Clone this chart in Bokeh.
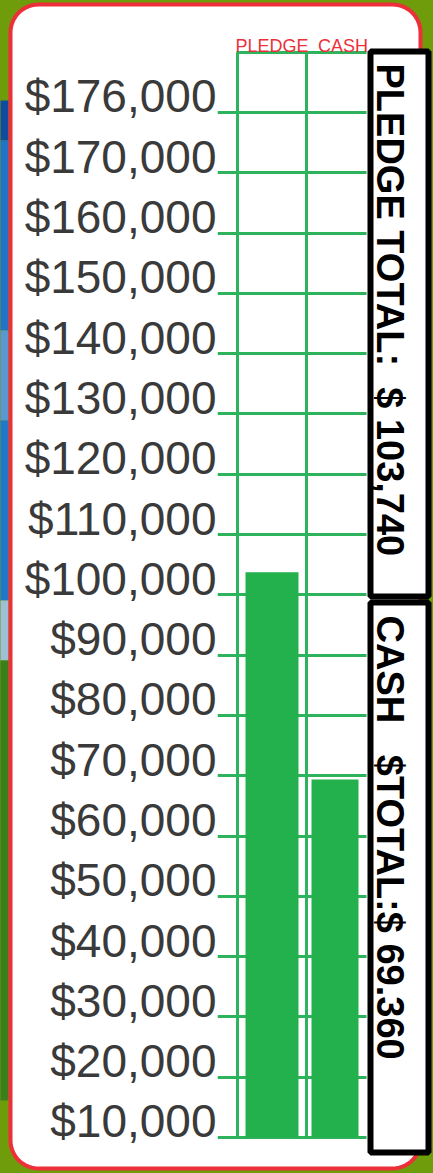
import numpy as np
from bokeh.plotting import figure
from bokeh.models import LinearAxis, FixedTicker, Grid, Range1d
from bokeh.core.properties import value
from bokeh.embed import file_html
from bokeh.resources import INLINE

# ---------------- data ----------------
categories = ["PLEDGE", "CASH"]
amounts = [103740, 69360]
tick_values = [10000, 20000, 30000, 40000, 50000, 60000, 70000, 80000, 90000,
               100000, 110000, 120000, 130000, 140000, 150000, 160000, 170000, 180000]
tick_labels = ["$10,000", "$20,000", "$30,000", "$40,000", "$50,000", "$60,000",
               "$70,000", "$80,000", "$90,000", "$100,000", "$110,000", "$120,000",
               "$130,000", "$140,000", "$150,000", "$160,000", "$170,000", "$176,000"]
box_texts = ["PLEDGE TOTAL:\u00a0 $ 103,740", "CASH \u00a0 $TOTAL:$ 69.360"]

# ---------------- layout constants ----------------
W, H = 433, 1173
FRAME_LEFT = 217
BASE_PX, TOP_TICK_PX = 1137, 112
GREEN = "#2db35b"
BAR_GREEN = "#22b14c"
RED = "#ec2f38"
OLIVE = "#6f9c0a"

px_per_unit = (BASE_PX - TOP_TICK_PX) / (tick_values[-1] - tick_values[0])
step = tick_values[-1] - tick_values[-2]
grid_top = tick_values[-1] + step


def yd(py):
    return tick_values[0] + (BASE_PX - py) / px_per_unit


def xd(px):
    return px - FRAME_LEFT


p = figure(width=W, height=H, x_range=Range1d(0, W - FRAME_LEFT),
           y_range=Range1d(yd(H), yd(0)),
           x_axis_type=None, y_axis_type=None,
           output_backend="svg", toolbar_location=None,
           min_border_left=FRAME_LEFT, min_border_right=0,
           min_border_top=0, min_border_bottom=0,
           outline_line_color=None, background_fill_color="white",
           border_fill_color="white")

# ---------------- grid (tick lines run out to the labels) ----------------
hgrid = Grid(dimension=1, ticker=FixedTicker(ticks=tick_values),
             cross_bounds=(xd(217), xd(366)),
             grid_line_color=GREEN, grid_line_width=3)
topgrid = Grid(dimension=1, ticker=FixedTicker(ticks=[grid_top]),
               cross_bounds=(xd(236), xd(366)),
               grid_line_color=GREEN, grid_line_width=3)
vgrid = Grid(dimension=0, ticker=FixedTicker(ticks=[xd(237), xd(306)]),
             cross_bounds=(tick_values[0], grid_top),
             grid_line_color=GREEN, grid_line_width=3)
p.add_layout(hgrid)
p.add_layout(topgrid)
p.add_layout(vgrid)

# ---------------- y axis (labels sit on their grid line) ----------------
label_offset = round(16 / px_per_unit)
label_ticks = [v + label_offset for v in tick_values]
label_axis = LinearAxis(ticker=FixedTicker(ticks=label_ticks),
                        major_label_overrides=dict(zip(label_ticks, tick_labels)),
                        axis_line_color=None, major_tick_line_color=None,
                        major_tick_out=0, major_tick_in=0, minor_tick_line_color=None,
                        major_label_standoff=1,
                        major_label_text_font="Liberation Sans",
                        major_label_text_font_size="46px",
                        major_label_text_color="#3a3a3a")
p.add_layout(label_axis, "left")

# ---------------- bars ----------------
bar_x = [xd(271.5), xd(334.5)]
bar_w = [53, 47]
p.vbar(x=bar_x, width=bar_w, bottom=tick_values[0], top=amounts,
       fill_color=BAR_GREEN, line_color=None)

# column headers
p.text(x=[xd(271.5), xd(342.5)], y=[yd(45)] * 2, text=categories,
       text_align="center", text_baseline="alphabetic",
       text_font=value("Liberation Sans"), text_font_size="18px",
       text_color=RED)

# ---------------- card decoration ----------------
def rounded_rect(x0, y0, x1, y1, r, n=14):
    pts = []
    corners = [(x1 - r, y0 + r, -90, 0), (x1 - r, y1 - r, 0, 90),
               (x0 + r, y1 - r, 90, 180), (x0 + r, y0 + r, 180, 270)]
    for cx, cy, a0, a1 in corners:
        for a in np.linspace(np.radians(a0), np.radians(a1), n):
            pts.append((cx + r * np.cos(a), cy + r * np.sin(a)))
    return pts

card = rounded_rect(10, 4, 420, 1168, 28)
cx = [xd(a) for a, b in card]
cy = [yd(b) for a, b in card]
outer_x = [xd(-2), xd(W + 2), xd(W + 2), xd(-2)]
outer_y = [yd(-2), yd(-2), yd(H + 2), yd(H + 2)]
p.multi_polygons(xs=[[[outer_x, cx]]], ys=[[[outer_y, cy]]],
                 fill_color=OLIVE, line_color=None, level="overlay")

sky_top = [100, 140, 330, 420, 600, 660]
sky_bot = [140, 330, 420, 600, 660, 1100]
sky_col = ["#0f4b9e", "#2073c8", "#5b98d2", "#1f78cc", "#9fbfd6", "#3a7f1c"]
p.quad(left=xd(0), right=xd(8), top=[yd(t) for t in sky_top],
       bottom=[yd(b) for b in sky_bot], fill_color=sky_col, line_color=None,
       level="overlay")

p.line(x=cx + [cx[0]], y=cy + [cy[0]], line_color=RED, line_width=4, level="overlay")

# ---------------- total boxes ----------------
p.quad(left=xd(370), right=xd(428), top=[yd(51), yd(602)], bottom=[yd(596), yd(1152)],
       fill_color="white", line_color="black", line_width=6, level="overlay")
p.text(x=[xd(389)] * 2, y=[yd(63), yd(615)], text=box_texts, angle=-np.pi / 2,
       text_align="left", text_baseline="middle",
       text_font=value("Liberation Sans"), text_font_style="bold",
       text_font_size="38px", text_color="black", level="overlay")

open("out.html", "w").write(file_html(p, INLINE))
